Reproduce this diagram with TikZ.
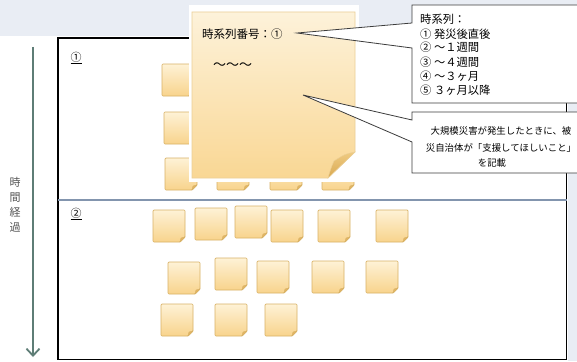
\documentclass[tikz,border=0pt]{standalone}
\usepackage{fontspec}
\setmainfont{Noto Sans CJK JP}
\usetikzlibrary{arrows.meta}
\definecolor{bandcol}{HTML}{E9EDF4}
\definecolor{notetop}{HTML}{FEF2D6}
\definecolor{notebot}{HTML}{F8D38C}
\definecolor{notedraw}{HTML}{D9B266}
\definecolor{notefold}{HTML}{E2B562}
\definecolor{bigtop}{HTML}{FDF2DA}
\definecolor{bigbot}{HTML}{F9D794}
\definecolor{bigdraw}{HTML}{EBCF97}
\definecolor{foldtop}{HTML}{EFCB82}
\definecolor{foldbot}{HTML}{D9A952}
\definecolor{arrowcol}{HTML}{5E7D76}
\definecolor{sepcol}{HTML}{8395AE}
\definecolor{callcol}{HTML}{3C3C3C}
\definecolor{textgrey}{HTML}{555555}
\newcommand\snote[3]{%
  \node[notebase, anchor=north west] (#1) at (#2,#3) {};
  \path[top color=notetop, bottom color=notebot, draw=notedraw, line width=0.7pt, rounded corners=1pt]
    (#1.north west) -- (#1.north east) -- ([yshift=5pt]#1.south east) -- ([xshift=-5pt]#1.south east) -- (#1.south west) -- cycle;
  \path[fill=notefold, draw=notedraw, line width=0.4pt]
    ([yshift=5pt]#1.south east) -- ([shift={(-4pt,4pt)}]#1.south east) -- ([xshift=-5pt]#1.south east) -- cycle;
}
\begin{document}
\begin{tikzpicture}[x=1pt,y=-1pt,
  notebase/.style={minimum width=32pt,minimum height=32pt,inner sep=0pt,outer sep=0pt},
  boxbase/.style={inner sep=0pt,outer sep=0pt},
  calltext/.style={font=\fontsize{11.3}{13}\selectfont, text=black, inner sep=0pt},
  call2text/.style={font=\fontsize{9.4}{11}\selectfont, text=black, inner sep=0pt},
  callout/.style={draw=callcol, fill=white, line width=0.8pt}]
\useasboundingbox (0,0) rectangle (577,361);
\fill[white] (0,0) rectangle (577,361);
\fill[bandcol] (0,0) rectangle (577,36);
\fill[bandcol] (568,36) rectangle (577,361);

% frame and separator
\node[boxbase, anchor=north west, minimum width=508.5pt, minimum height=321.5pt, draw=black, line width=1.6pt] (frame) at (58,38) {};
\draw[sepcol, line width=1.2pt] (frame.west |- 0,200) -- (frame.east |- 0,200);

% time arrow
\coordinate (atop) at (33,47);
\coordinate (abot) at (33,357);
\draw[arrowcol, line width=1.8pt, -{Straight Barb[length=7pt,width=13pt]}] (atop) -- (abot);
\node[text=textgrey, font=\fontsize{11}{15}\selectfont, align=center, inner sep=0pt] (tl) at (15,205) {時\\間\\経\\過};

% section labels
\node[font=\fontsize{11}{13}\selectfont, inner sep=0pt] (s1) at (76,58) {\underline{①}};
\node[font=\fontsize{11}{13}\selectfont, inner sep=0pt] (s2) at (76,214) {\underline{②}};

% small notes, section 1
\snote{a1}{162}{64}
\snote{a2}{164}{112}
\snote{a3}{165}{158}
\snote{a4}{217}{158}
\snote{a5}{270}{158}
\snote{a6}{322}{158}

% small notes, section 2
\snote{b1}{153}{210}
\snote{b2}{195}{208}
\snote{b3}{235}{206}
\snote{b4}{271}{210}
\snote{b5}{318}{210}
\snote{b6}{376}{210}
\snote{b7}{168}{262}
\snote{b8}{215}{258}
\snote{b9}{257}{261}
\snote{b10}{312}{261}
\snote{b11}{366}{261}
\snote{b12}{161}{304}
\snote{b13}{215}{304}
\snote{b14}{265}{304}

% big note
\fill[white] (189,5) rectangle (359,182);
\node[boxbase, anchor=north west, minimum width=163pt, minimum height=166pt] (big) at (192,12) {};
\path[top color=bigtop, bottom color=bigbot, draw=bigdraw, line width=0.6pt]
  (big.north west) -- (big.north east) -- ([yshift=26pt]big.south east) -- ([xshift=-27pt]big.south east) -- (big.south west) -- cycle;
\path[top color=foldtop, bottom color=foldbot, draw=bigdraw, line width=0.4pt]
  ([yshift=26pt]big.south east) .. controls ([shift={(-10pt,24pt)}]big.south east) .. ([shift={(-21pt,17pt)}]big.south east)
  .. controls ([shift={(-24pt,10pt)}]big.south east) .. ([xshift=-27pt]big.south east) -- cycle;
\node[anchor=west, inner sep=0pt, font=\fontsize{11.5}{13}\selectfont] (t1) at (202,34) {時系列番号：①};
\node[anchor=west, inner sep=0pt, font=\fontsize{13}{15}\selectfont] (t2) at (213,66) {～～～};

% pointer tips
\coordinate (p1) at (297,33);
\coordinate (p2) at (303,95);

% callout 1
\node[boxbase, anchor=north west, minimum width=172pt, minimum height=98pt] (c1) at (412,5) {};
\draw[callout] (c1.north west) -- (c1.north east) -- (c1.south east) -- (c1.south west)
  -- (c1.west |- 0,48) -- (p1) -- (c1.west |- 0,23) -- cycle;
\node[calltext, anchor=base west] (l1) at (420,24) {時系列：};
\node[calltext, anchor=base west] (l2) at (420,38) {① 発災後直後};
\node[calltext, anchor=base west] (l3) at (420,52) {② ～１週間};
\node[calltext, anchor=base west] (l4) at (420,66) {③ ～４週間};
\node[calltext, anchor=base west] (l5) at (420,80) {④ ～３ヶ月};
\node[calltext, anchor=base west] (l6) at (420,94) {⑤ ３ヶ月以降};

% callout 2
\node[boxbase, anchor=north west, minimum width=172pt, minimum height=61pt] (c2) at (412,112) {};
\draw[callout] (c2.north west) -- (c2.north east) -- (c2.south east) -- (c2.south west)
  -- (c2.west |- 0,142) -- (p2) -- (c2.west |- 0,120) -- cycle;
\node[call2text, anchor=base] (m1) at (501,134) {大規模災害が発生したときに、被};
\node[call2text, anchor=base] (m2) at (501,151) {災自治体が「支援してほしいこと」};
\node[call2text, anchor=base] (m3) at (492,166) {を記載};
\end{tikzpicture}
\end{document}
